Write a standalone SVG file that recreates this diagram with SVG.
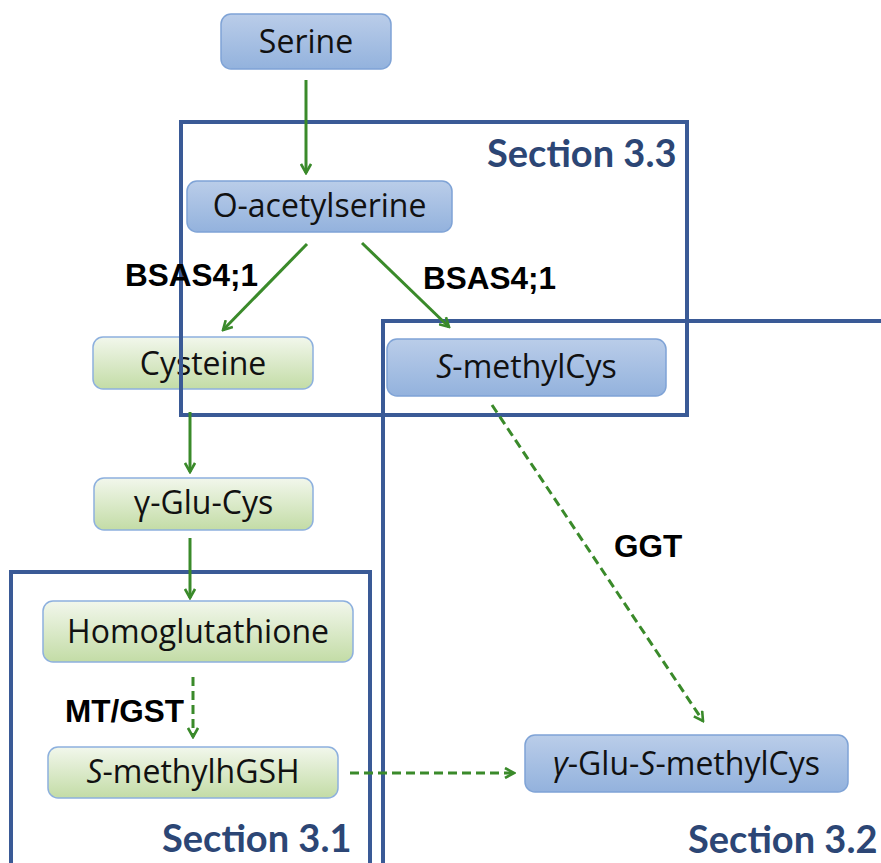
<svg xmlns="http://www.w3.org/2000/svg" width="881" height="863" viewBox="0 0 881 863">
<defs>
<linearGradient id="gBlue" x1="0" y1="0" x2="0" y2="1">
<stop offset="0" stop-color="#BACDE9"/><stop offset="1" stop-color="#93B2DD"/>
</linearGradient>
<linearGradient id="gGreen" x1="0" y1="0" x2="0" y2="1">
<stop offset="0" stop-color="#F2F7EC"/><stop offset="1" stop-color="#C3DCA6"/>
</linearGradient>
<marker id="ah" viewBox="0 0 12 12" refX="10" refY="6" markerWidth="12" markerHeight="12" markerUnits="userSpaceOnUse" orient="auto">
<path d="M1,1 L10,6 L1,11" fill="none" stroke="#3A8A2A" stroke-width="2.6"/>
</marker>
<style>
.blue{fill:url(#gBlue);stroke:#7FA3D6;stroke-width:1.5}
.green{fill:url(#gGreen);stroke:#8DB0DE;stroke-width:1.5}
.nt{font-family:"Open Sans",Lato,sans-serif;font-size:32px;fill:#111;text-anchor:middle}
.lb{font-family:"Liberation Sans",Arial,sans-serif;font-weight:bold;font-size:31.5px;fill:#000}
.sec{font-family:Lato,"Open Sans",sans-serif;font-weight:bold;font-size:38px;fill:#2C4675}
.frame{fill:none;stroke:#3A5A96;stroke-width:4}
.c{fill:none;stroke:#3A8A2A;stroke-width:3;marker-end:url(#ah)}
.d{stroke-dasharray:9 5}
</style>
</defs>
<g id="nodes">
<g id="serine"><rect class="blue" x="221" y="14" width="170" height="55" rx="10"/><text class="nt" x="306" y="53">Serine</text></g>
<g id="oacetylserine"><rect class="blue" x="187" y="181" width="265" height="51" rx="10"/><text class="nt" x="319.5" y="217">O-acetylserine</text></g>
<g id="cysteine"><rect class="green" x="93" y="337" width="220" height="52" rx="10"/><text class="nt" x="203" y="375">Cysteine</text></g>
<g id="smethylcys"><rect class="blue" x="387" y="339" width="279" height="57" rx="10"/><text class="nt" x="526.5" y="378"><tspan font-style="italic">S</tspan>-methylCys</text></g>
<g id="gglucys"><rect class="green" x="94" y="478" width="219" height="52" rx="10"/><text class="nt" x="203.5" y="514">γ-Glu-Cys</text></g>
<g id="homoglutathione"><rect class="green" x="43" y="601" width="310" height="61" rx="10"/><text class="nt" x="198" y="643">Homoglutathione</text></g>
<g id="smethylhgsh"><rect class="green" x="48" y="747" width="290" height="51" rx="10"/><text class="nt" x="193" y="783"><tspan font-style="italic">S</tspan>-methylhGSH</text></g>
<g id="gglusmethylcys"><rect class="blue" x="525" y="735" width="323" height="57" rx="10"/><text class="nt" x="686.5" y="775"><tspan font-style="italic">γ</tspan>-Glu-<tspan font-style="italic">S</tspan>-methylCys</text></g>
</g>
<g id="frames">
<rect class="frame" x="181" y="122" width="506" height="293"/>
<path class="frame" d="M383,866 V321 H885"/>
<path class="frame" d="M11,866 V572 H370 V866"/>
</g>
<g id="connectors">
<line class="c" x1="306" y1="80" x2="306" y2="173"/>
<line class="c" x1="307" y1="244" x2="223" y2="330"/>
<line class="c" x1="362" y1="243" x2="449" y2="327"/>
<line class="c" x1="190" y1="412" x2="190" y2="472"/>
<line class="c" x1="190" y1="538" x2="190" y2="598"/>
<line class="c d" x1="193" y1="677" x2="193" y2="737"/>
<line class="c d" x1="350" y1="773" x2="514" y2="773"/>
<line class="c d" x1="492" y1="405" x2="703" y2="721"/>
</g>
<g id="labels">
<text class="lb" x="125" y="286">BSAS4;1</text>
<text class="lb" x="423" y="289">BSAS4;1</text>
<text class="lb" x="614" y="557">GGT</text>
<text class="lb" x="65" y="722">MT/GST</text>
<text class="sec" x="487" y="167">Section 3.3</text>
<text class="sec" x="162" y="852">Section 3.1</text>
<text class="sec" x="688" y="853">Section 3.2</text>
</g>
</svg>
